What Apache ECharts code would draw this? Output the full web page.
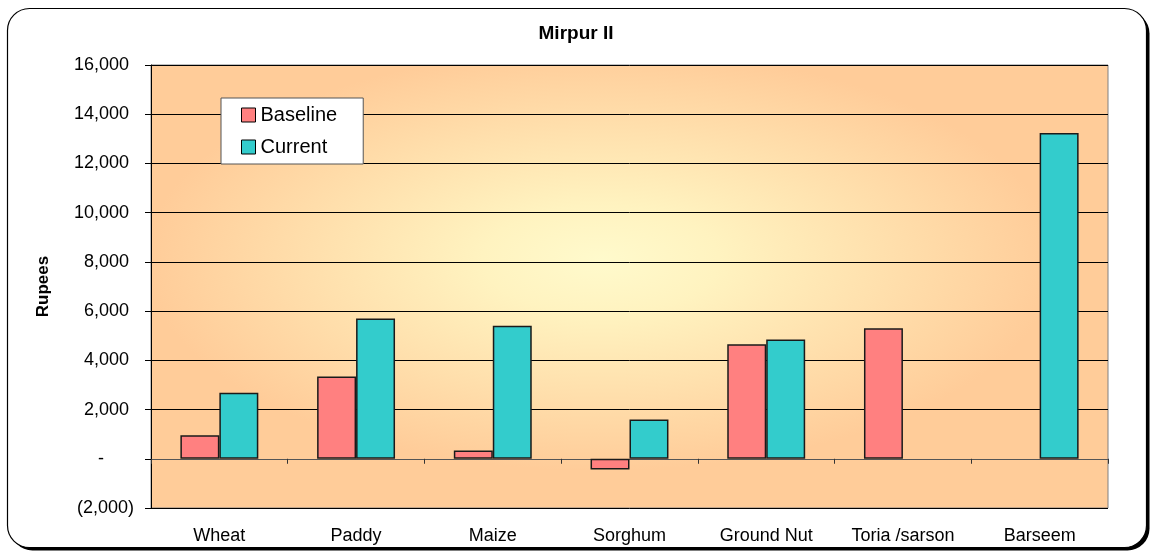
<!DOCTYPE html>
<html>
<head>
<meta charset="utf-8">
<script src="https://cdn.jsdelivr.net/npm/echarts@6/dist/echarts.min.js"></script>
<style>
  html, body { margin: 0; padding: 0; background: #fff; }
  #chart { width: 1152px; height: 552px; }
</style>
</head>
<body>
<div id="chart"></div>
<script>
const categories = ["Wheat", "Paddy", "Maize", "Sorghum", "Ground Nut", "Toria /sarson", "Barseem"];
const baseline = [960, 3340, 340, -440, 4650, 5300, null];
const current = [2680, 5700, 5410, 1600, 4850, null, 13240];
const yTicks = { min: -2000, max: 16000, interval: 2000 };

const FONT = "'Liberation Sans', Arial, sans-serif";
const grid = { left: 151, top: 65, width: 957, height: 443 };

// excel "accounting" style: 1,000 / - / (2,000)
const fmtNum = (v) => {
  if (v === 0) return "-      ";
  const s = Math.abs(v).toLocaleString("en-US");
  return v < 0 ? "(" + s + ")" : s + " ";
};

const chart = echarts.init(document.getElementById("chart"));

chart.setOption({
  animation: false,
  backgroundColor: "#fff",
  textStyle: { fontFamily: FONT },
  title: {
    text: "Mirpur II",
    left: "center",
    top: 24,
    padding: 0,
    textStyle: { fontSize: 19, fontWeight: "bold", color: "#000", fontFamily: FONT }
  },
  graphic: [
    {
      // drop shadow of the chart frame
      type: "rect",
      z: -30,
      silent: true,
      shape: { x: 10.5, y: 11.5, width: 1139, height: 539, r: 22 },
      style: { fill: "#000" }
    },
    {
      type: "rect",
      z: -20,
      silent: true,
      shape: { x: 7.5, y: 8.5, width: 1139, height: 539, r: 22 },
      style: { fill: "#fff", stroke: "#000", lineWidth: 1.2 }
    },
    {
      // elliptical "from center" fill of the plot area
      type: "rect",
      z: -10,
      silent: true,
      x: grid.left,
      y: grid.top,
      scaleY: grid.height / grid.width,
      shape: { x: 0, y: 0, width: grid.width, height: grid.width },
      style: {
        fill: new echarts.graphic.RadialGradient(0.47, 0.44, 0.56, [
          { offset: 0, color: "#FFFACC" },
          { offset: 0.22, color: "#FFF3C0" },
          { offset: 0.85, color: "#FFCC99" },
          { offset: 1, color: "#FFCC99" }
        ])
      }
    }
  ],
  legend: {
    orient: "vertical",
    left: 221,
    top: 98,
    padding: [7, 26, 7, 20],
    itemGap: 12,
    itemWidth: 14,
    itemHeight: 14,
    icon: "rect",
    backgroundColor: "#fff",
    borderColor: "#555",
    borderWidth: 1,
    borderRadius: 0,
    itemStyle: { borderColor: "#000", borderWidth: 1 },
    textStyle: { fontSize: 20, color: "#000", fontFamily: FONT },
    data: ["Baseline", "Current"]
  },
  grid: {
    left: grid.left,
    top: grid.top,
    width: grid.width,
    height: grid.height,
    containLabel: false,
    outerBoundsMode: "none",
    show: true,
    backgroundColor: "transparent",
    borderColor: "#808080",
    borderWidth: 1
  },
  xAxis: [
    {
      // category axis sitting on the zero line (ticks only)
      type: "category",
      data: categories,
      position: "bottom",
      axisLine: { onZero: true, lineStyle: { color: "#555", width: 1 } },
      axisTick: { show: true, length: 5, lineStyle: { color: "#333" } },
      axisLabel: { show: false },
      splitLine: { show: false }
    },
    {
      // same categories, labels under the plot area
      type: "category",
      data: categories,
      position: "bottom",
      axisLine: { show: false, onZero: false },
      axisTick: { show: false },
      axisLabel: { margin: 19, fontSize: 18, color: "#000", fontFamily: FONT },
      splitLine: { show: false }
    }
  ],
  yAxis: {
    type: "value",
    min: yTicks.min,
    max: yTicks.max,
    interval: yTicks.interval,
    name: "Rupees",
    nameLocation: "middle",
    nameGap: 99,
    nameTextStyle: { fontSize: 17, fontWeight: "bold", color: "#000", fontFamily: FONT },
    axisLine: { show: true, lineStyle: { color: "#000", width: 1 } },
    axisTick: { show: true, length: 6, lineStyle: { color: "#000" } },
    axisLabel: { margin: 17, fontSize: 18, color: "#000", fontFamily: FONT, formatter: fmtNum },
    splitLine: { show: true, lineStyle: { color: "#000", width: 1 } }
  },
  series: [
    {
      name: "Baseline",
      type: "bar",
      xAxisIndex: 0,
      data: baseline,
      barGap: "0%",
      barCategoryGap: "43%",
      itemStyle: { color: "#FF8080", borderColor: "#1a1a1a", borderWidth: 1.5 },
      emphasis: { disabled: true }
    },
    {
      name: "Current",
      type: "bar",
      xAxisIndex: 0,
      data: current,
      barGap: "0%",
      barCategoryGap: "43%",
      itemStyle: { color: "#33CCCC", borderColor: "#1a1a1a", borderWidth: 1.5 },
      emphasis: { disabled: true }
    }
  ]
});
</script>
</body>
</html>
